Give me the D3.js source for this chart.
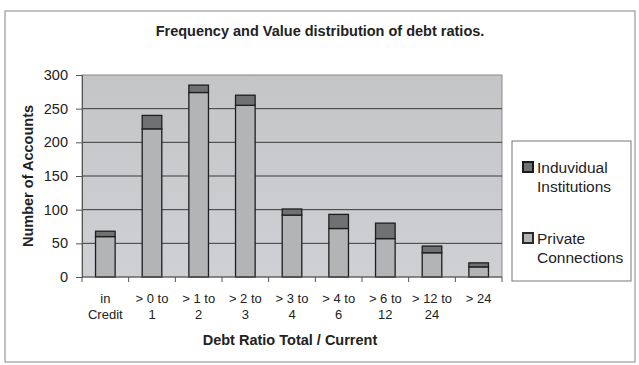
<!DOCTYPE html>
<html>
<head>
<meta charset="utf-8">
<script src="https://cdn.jsdelivr.net/npm/d3@7"></script>
<style>
  body { margin: 0; background: #fff; }
  text { font-family: "Liberation Sans", Arial, sans-serif; fill: #222; }
</style>
</head>
<body>
<svg id="chart" width="639" height="365"></svg>
<script>
// debt ratio buckets and the two stacked series
let categories = [['in', 'Credit'], ['> 0 to', '1'], ['> 1 to', '2'], ['> 2 to', '3'], ['> 3 to', '4'],
    ['> 4 to', '6'], ['> 6 to', '12'], ['> 12 to', '24'], ['> 24', '']]
let privateConn = [60, 220, 274, 255, 92, 72, 57, 36, 15]
let indivInst = [8, 20, 11, 15, 9, 21, 23, 10, 6]
let yTicks = [0, 50, 100, 150, 200, 250, 300]
let seriesNames = ['Private Connections', 'Induvidual Institutions']
let seriesColors = ['#b3b4b6', '#707172']

let svg = d3.select('#chart')

// outer frame
svg.append('rect').attr('x', 5).attr('y', 11).attr('width', 630).attr('height', 351)
    .attr('fill', 'none').attr('stroke', '#999').attr('stroke-width', 1.2)

let plotLeft = 82, plotRight = 502, plotTop = 75, plotBottom = 277

let x = d3.scaleBand().domain(d3.range(categories.length)).range([plotLeft, plotRight]).paddingInner(0).paddingOuter(0)
let y = d3.scaleLinear().domain([0, 300]).range([plotBottom, plotTop])

// plot background with slight gradient
let defs = svg.append('defs')
let grad = defs.append('linearGradient').attr('id', 'bg').attr('x1', 0).attr('y1', 0).attr('x2', 0).attr('y2', 1)
grad.append('stop').attr('offset', '0%').attr('stop-color', '#c4c5c7')
grad.append('stop').attr('offset', '100%').attr('stop-color', '#cfd0d3')
svg.append('rect').attr('x', plotLeft).attr('y', plotTop).attr('width', plotRight - plotLeft).attr('height', plotBottom - plotTop)
    .attr('fill', 'url(#bg)').attr('stroke', '#8a8a8a').attr('stroke-width', 1)

// gridlines
svg.append('g').selectAll('line')
    .data(yTicks.filter(d => d > 0 && d < 300))
    .enter().append('line')
    .attr('x1', plotLeft).attr('x2', plotRight)
    .attr('y1', d => y(d)).attr('y2', d => y(d))
    .attr('stroke', '#3a3a3a').attr('stroke-width', 1)

// stacked bars
let rows = categories.map((c, i) => ({ i: i, p: privateConn[i], n: indivInst[i] }))
let stack = d3.stack().keys(['p', 'n'])(rows)
let bw = x.bandwidth() * 0.42
svg.append('g').selectAll('g')
    .data(stack)
    .enter().append('g')
    .attr('fill', (d, k) => seriesColors[k])
    .selectAll('rect')
    .data(d => d)
    .enter().append('rect')
    .attr('x', d => x(d.data.i) + (x.bandwidth() - bw) / 2)
    .attr('y', d => y(d[1]))
    .attr('width', bw)
    .attr('height', d => y(d[0]) - y(d[1]))
    .attr('stroke', '#1e1e1e').attr('stroke-width', 1.3)

// y axis
let yAxis = svg.append('g').attr('transform', `translate(${plotLeft},0)`)
    .call(d3.axisLeft(y).tickValues(yTicks).tickSize(6).tickPadding(8))
yAxis.select('.domain').attr('stroke', '#555')
yAxis.selectAll('.tick line').attr('stroke', '#555')
yAxis.selectAll('text').style('font-size', '14.5px').attr('fill', '#222')

// x axis, ticks at band edges
let xAxisG = svg.append('g').attr('transform', `translate(0,${plotBottom})`)
xAxisG.append('line').attr('x1', plotLeft).attr('x2', plotRight).attr('stroke', '#555')
xAxisG.selectAll('line.tk')
    .data(d3.range(categories.length + 1))
    .enter().append('line').attr('class', 'tk')
    .attr('x1', i => plotLeft + i * x.step()).attr('x2', i => plotLeft + i * x.step())
    .attr('y1', 0).attr('y2', 5).attr('stroke', '#555')
let lbl = xAxisG.selectAll('text.lb')
    .data(categories)
    .enter().append('text').attr('class', 'lb')
    .attr('text-anchor', 'middle')
    .style('font-size', '13px')
lbl.append('tspan').attr('x', (d, i) => x(i) + x.bandwidth() / 2).attr('y', 26).text(d => d[0])
lbl.append('tspan').attr('x', (d, i) => x(i) + x.bandwidth() / 2).attr('y', 42).text(d => d[1])

// titles
svg.append('text').attr('x', 320).attr('y', 36).attr('text-anchor', 'middle')
    .style('font-size', '14.5px').style('font-weight', 'bold')
    .text('Frequency and Value distribution of debt ratios.')
svg.append('text').attr('x', 290).attr('y', 345).attr('text-anchor', 'middle')
    .style('font-size', '14.5px').style('font-weight', 'bold')
    .text('Debt Ratio Total / Current')
svg.append('text').attr('transform', `translate(33,${(plotTop + plotBottom) / 2}) rotate(-90)`)
    .attr('text-anchor', 'middle')
    .style('font-size', '14.5px').style('font-weight', 'bold')
    .text('Number of Accounts')

// legend
let legend = svg.append('g')
legend.append('rect').attr('x', 512).attr('y', 141).attr('width', 119).attr('height', 140)
    .attr('fill', '#fff').attr('stroke', '#777').attr('stroke-width', 1)
let legItems = [
    { lines: ['Induvidual', 'Institutions'], color: seriesColors[1], swatch: '#1a1a1a', y: 162 },
    { lines: ['Private', 'Connections'], color: seriesColors[0], swatch: '#2a2a2a', y: 233 }
]
let li = legend.selectAll('g.item').data(legItems).enter().append('g').attr('class', 'item')
li.append('rect').attr('x', 523).attr('y', d => d.y).attr('width', 10).attr('height', 10)
    .attr('fill', d => d.color).attr('stroke', d => d.swatch).attr('stroke-width', 2)
li.append('text').attr('x', 537).attr('y', d => d.y + 11).style('font-size', '15.5px').text(d => d.lines[0])
li.append('text').attr('x', 537).attr('y', d => d.y + 30).style('font-size', '15.5px').text(d => d.lines[1])
</script>
</body>
</html>
